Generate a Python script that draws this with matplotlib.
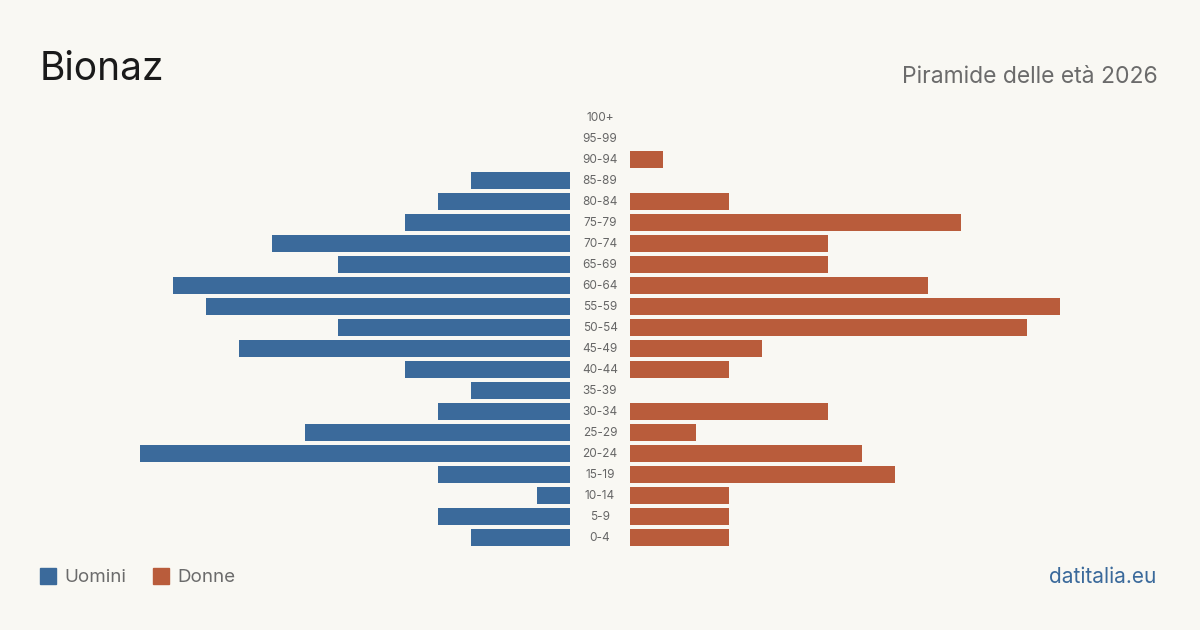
import matplotlib
matplotlib.use("Agg")
import matplotlib.pyplot as plt
from matplotlib.patches import Rectangle

plt.rcParams['font.family'] = ['Inter', 'DejaVu Sans']

ages = ["0-4", "5-9", "10-14", "15-19", "20-24", "25-29", "30-34", "35-39", "40-44",
        "45-49", "50-54", "55-59", "60-64", "65-69", "70-74", "75-79", "80-84",
        "85-89", "90-94", "95-99", "100+"]
men = [3, 4, 1, 4, 13, 8, 4, 3, 5, 10, 7, 11, 12, 7, 9, 5, 4, 3, 0, 0, 0]
women = [3, 3, 3, 8, 7, 2, 6, 0, 3, 4, 12, 13, 9, 6, 6, 10, 3, 0, 1, 0, 0]

BG = "#f9f8f3"
BLUE = "#3b6a9b"
ORANGE = "#b95c3b"

W, H = 1200, 630
fig = plt.figure(figsize=(12, 6.3), dpi=100, facecolor=BG)

xmax = 13
bottom = 1 - 548 / H
height = 441 / H
axL = fig.add_axes([140 / W, bottom, 430 / W, height])
axR = fig.add_axes([630 / W, bottom, 430 / W, height])

ypos = list(range(len(ages)))
axL.barh(ypos, men, height=0.8, color=BLUE)
axR.barh(ypos, women, height=0.8, color=ORANGE)
axL.set_xlim(xmax, 0)
axR.set_xlim(0, xmax)
for ax in (axL, axR):
    ax.set_ylim(-0.5, len(ages) - 0.5)
    ax.axis('off')
    ax.set_facecolor(BG)

for i, a in enumerate(ages):
    fig.text(600 / W, 1 - (538 - i * 21) / H, a, ha='center', va='center',
             fontsize=8.5, color="#666666")

fig.text(40 / W, 1 - 69 / H, "Bionaz", fontsize=28, color="#1a1a1a", ha='left', va='center')
fig.text(1158 / W, 1 - 77 / H, "Piramide delle età 2026", fontsize=16.5, color="#6b6b6b",
         ha='right', va='center')

# legend
fig.patches.append(Rectangle((40 / W, 1 - 584 / H), 16 / W, 16 / H, transform=fig.transFigure,
                             color=BLUE, figure=fig))
fig.text(64 / W, 1 - 577 / H, "Uomini", fontsize=13.5, color="#6b6b6b", ha='left', va='center')
fig.patches.append(Rectangle((153 / W, 1 - 584 / H), 16 / W, 16 / H, transform=fig.transFigure,
                             color=ORANGE, figure=fig))
fig.text(177 / W, 1 - 577 / H, "Donne", fontsize=13.5, color="#6b6b6b", ha='left', va='center')

fig.text(1156 / W, 1 - 577 / H, "datitalia.eu", fontsize=15, color=BLUE, ha='right', va='center')

fig.savefig("out.png", dpi=100, facecolor=BG)
